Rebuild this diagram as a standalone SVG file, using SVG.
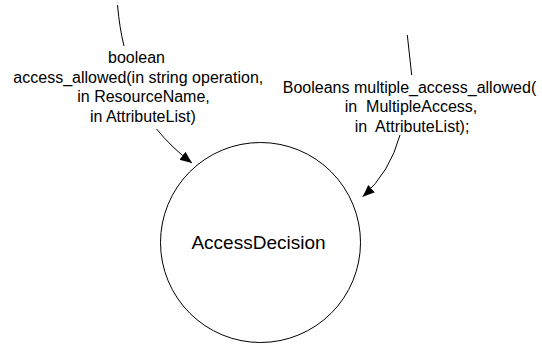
<svg xmlns="http://www.w3.org/2000/svg" width="542" height="346" viewBox="0 0 542 346">
  <defs>
    <marker id="arrow" markerUnits="userSpaceOnUse" markerWidth="14" markerHeight="12" refX="12" refY="5" orient="auto">
      <path d="M0,0 L12,5 L0,10 z" fill="#000"/>
    </marker>
  </defs>
  <style>
    .lbl { font-family: "Liberation Sans", Arial, sans-serif; font-size: 16px; fill: #000; white-space: pre; }
    .node-text { font-family: "Liberation Sans", Arial, sans-serif; font-size: 19px; fill: #000; }
    .conn { fill: none; stroke: #000; stroke-width: 1; }
  </style>
  <rect width="542" height="346" fill="#fff"/>
  <g id="connectors">
    <path class="conn" d="M117.5,5 Q119.5,28 124,46"/>
    <path class="conn" d="M156.5,129 Q172,148 192,163" marker-end="url(#arrow)"/>
    <path class="conn" d="M407.3,35 Q409.5,55 411.7,75"/>
    <path class="conn" d="M400,135 Q390,172 362.7,196.7" marker-end="url(#arrow)"/>
  </g>
  <g id="label-access-allowed">
    <text class="lbl" x="136.5" y="63" text-anchor="middle">boolean</text>
    <text class="lbl" x="138.3" y="82.5" text-anchor="middle">access_allowed(in string operation,</text>
    <text class="lbl" x="143.5" y="102" text-anchor="middle">in ResourceName,</text>
    <text class="lbl" x="142.8" y="121.5" text-anchor="middle">in AttributeList)</text>
  </g>
  <g id="label-multiple-access-allowed">
    <text class="lbl" x="409.5" y="92.5" text-anchor="middle">Booleans multiple_access_allowed(</text>
    <text class="lbl" x="411" y="112" text-anchor="middle">in  MultipleAccess,</text>
    <text class="lbl" x="412" y="131.5" text-anchor="middle">in  AttributeList);</text>
  </g>
  <g id="AccessDecision">
    <circle cx="260.5" cy="242.5" r="100" fill="#fff" stroke="#000" stroke-width="1"/>
    <text class="node-text" x="258.5" y="248.5" text-anchor="middle">AccessDecision</text>
  </g>
</svg>
